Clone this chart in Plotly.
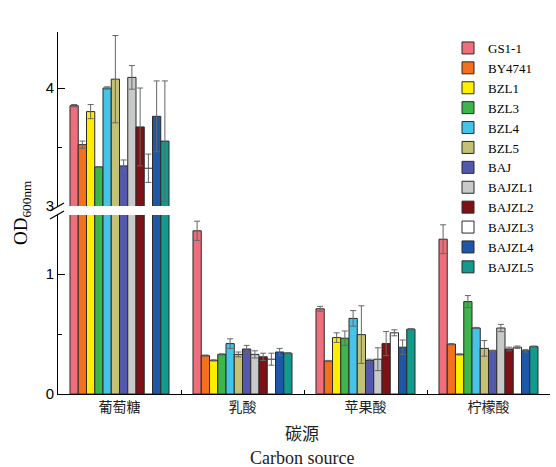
import plotly.graph_objects as go

categories = ["葡萄糖", "乳酸", "苹果酸", "柠檬酸"]
strains = ["GS1-1", "BY4741", "BZL1", "BZL3", "BZL4", "BZL5", "BAJ",
           "BAJZL1", "BAJZL2", "BAJZL3", "BAJZL4", "BAJZL5"]
colors = ["#EE6E7C", "#F2701E", "#FFEE00", "#3DB54A", "#45C3E8", "#C2C174",
          "#5458AA", "#C8CACA", "#7E1116", "#FFFFFF", "#1F57A8", "#129A8E"]

# OD600 values per strain across the four carbon sources
GS1_1 = [3.85, 1.36, 0.71, 1.29]
BY4741 = [3.52, 0.32, 0.275, 0.415]
BZL1 = [3.80, 0.28, 0.47, 0.33]
BZL3 = [3.33, 0.33, 0.465, 0.77]
BZL4 = [4.00, 0.42, 0.63, 0.55]
BZL5 = [4.075, 0.33, 0.495, 0.38]
BAJ = [3.34, 0.375, 0.28, 0.36]
BAJZL1 = [4.09, 0.33, 0.29, 0.55]
BAJZL2 = [3.67, 0.31, 0.42, 0.375]
BAJZL3 = [3.32, 0.29, 0.51, 0.39]
BAJZL4 = [3.76, 0.35, 0.39, 0.36]
BAJZL5 = [3.55, 0.34, 0.54, 0.395]

# error bars (SD)
GS1_1_err = [0.01, 0.08, 0.02, 0.12]
BY4741_err = [0.03, 0.005, 0.005, 0.005]
BZL1_err = [0.06, 0.005, 0.04, 0.005]
BZL3_err = [0.005, 0.005, 0.06, 0.05]
BZL4_err = [0.01, 0.04, 0.065, 0.005]
BZL5_err = [0.37, 0.02, 0.24, 0.065]
BAJ_err = [0.05, 0.03, 0.01, 0.005]
BAJZL1_err = [0.10, 0.03, 0.095, 0.03]
BAJZL2_err = [0.33, 0.03, 0.10, 0.015]
BAJZL3_err = [0.12, 0.05, 0.025, 0.01]
BAJZL4_err = [0.30, 0.03, 0.06, 0.01]
BAJZL5_err = [0.51, 0.005, 0.005, 0.005]

values = [GS1_1, BY4741, BZL1, BZL3, BZL4, BZL5, BAJ, BAJZL1, BAJZL2, BAJZL3, BAJZL4, BAJZL5]
errors = [GS1_1_err, BY4741_err, BZL1_err, BZL3_err, BZL4_err, BZL5_err, BAJ_err,
          BAJZL1_err, BAJZL2_err, BAJZL3_err, BAJZL4_err, BAJZL5_err]

# plot-area geometry (pixels) used only for decorations
L, R, T, B = 58, 550, 32, 394
W, H = R - L, B - T


def px(x):
    return (x - L) / W


def py(y):
    return (B - y) / H


fig = go.Figure()
for name, col, v, e in zip(strains, colors, values, errors):
    for yax, show in (("y", True), ("y2", False)):
        fig.add_trace(go.Bar(
            x=categories, y=v, name=name, yaxis=yax, showlegend=show,
            legendgroup=name,
            marker=dict(color=col, line=dict(color="#2a2a2a", width=1)),
            error_y=dict(type="data", array=e, visible=True, color="#666666",
                         thickness=1, width=3),
        ))

lower_top = py(215)
upper_bot = py(206)

tickfont = dict(family="Liberation Sans, Arial", size=15, color="black")
fig.update_layout(
    width=556, height=467,
    margin=dict(l=L, r=556 - R, t=T, b=467 - B),
    paper_bgcolor="white", plot_bgcolor="white",
    barmode="group", bargap=0.195, bargroupgap=0,
    xaxis=dict(type="category", range=[-0.5, 3.5], showline=True, linecolor="black",
               linewidth=1, ticks="inside", tickson="boundaries", ticklen=4,
               tickcolor="black", showgrid=False, anchor="y",
               tickfont=dict(family="Noto Sans CJK SC", size=14, color="#222")),
    yaxis=dict(domain=[0, lower_top], range=[0, (B - 215) / 120], tickvals=[0, 1],
               ticks="inside", ticklen=7, tickcolor="black", showline=True,
               linecolor="black", linewidth=1, showgrid=False, zeroline=False,
               tickfont=tickfont,
               minor=dict(tickvals=[0.5], ticks="inside", ticklen=4, tickcolor="black")),
    yaxis2=dict(domain=[upper_bot, 1], range=[3, 3 + (206 - T) / 118], tickvals=[3, 4],
                ticks="inside", ticklen=7, tickcolor="black", showline=True,
                linecolor="black", linewidth=1, showgrid=False, zeroline=False,
                anchor="x", tickfont=tickfont,
                minor=dict(tickvals=[3.5], ticks="inside", ticklen=4, tickcolor="black")),
    legend=dict(x=px(448), y=py(33), xanchor="left", yanchor="top",
                bgcolor="rgba(0,0,0,0)", tracegroupgap=0, itemwidth=30,
                font=dict(family="Liberation Serif", size=13, color="black")),
    showlegend=True,
)

# break marks on the y axis
for y0 in (211, 219):
    fig.add_shape(type="line", xref="paper", yref="paper",
                  x0=px(50), y0=py(y0), x1=px(64), y1=py(y0 - 8),
                  line=dict(color="black", width=1.2))

fig.add_annotation(text="OD<sub>600nm</sub>", textangle=-90, xref="paper", yref="paper",
                   x=px(22), y=py(213), xanchor="center", yanchor="middle", showarrow=False,
                   font=dict(family="Liberation Serif", size=19, color="black"))
fig.add_annotation(text="碳源", xref="paper", yref="paper", x=px(302), y=py(432),
                   xanchor="center", yanchor="middle",
                   showarrow=False, font=dict(family="Noto Sans CJK SC", size=17, color="#222"))
fig.add_annotation(text="Carbon source", xref="paper", yref="paper", x=px(302), y=py(458),
                   xanchor="center", yanchor="middle",
                   showarrow=False, font=dict(family="Liberation Serif", size=18, color="#222"))

fig.write_html("out.html", config={"displayModeBar": False},
               post_script="document.body.style.margin='0';")
